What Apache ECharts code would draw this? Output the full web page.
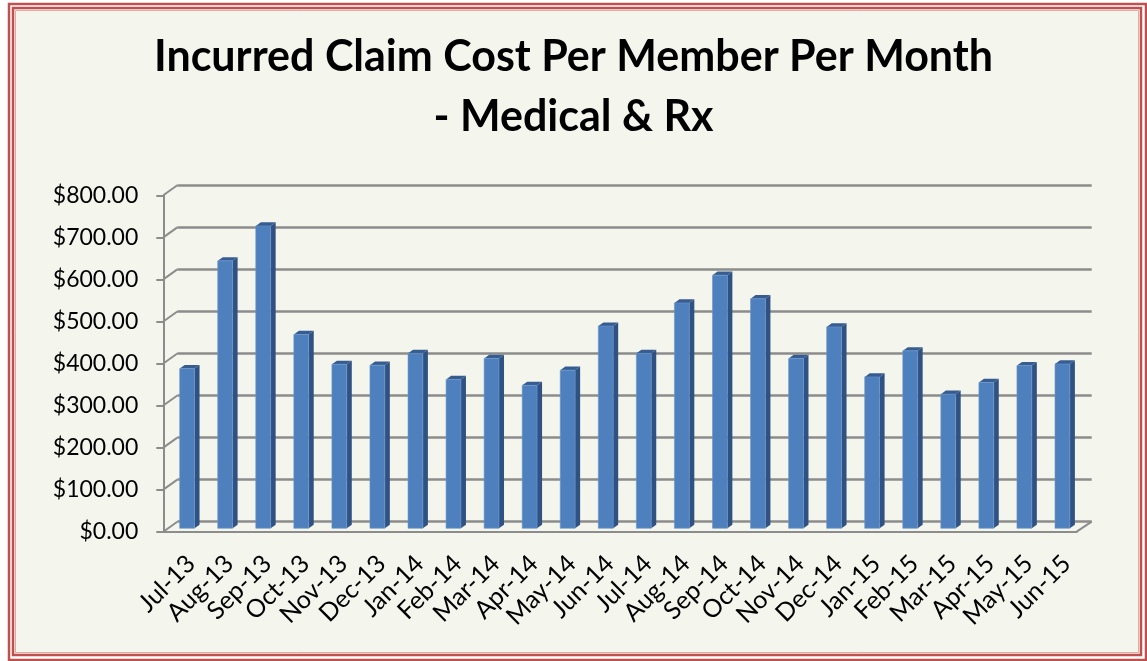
<!DOCTYPE html>
<html>
<head>
<meta charset="utf-8">
<title>Incurred Claim Cost PMPM</title>
<script src="https://cdn.jsdelivr.net/npm/echarts@6/dist/echarts.min.js"></script>
<style>
    html, body { margin: 0; padding: 0; background: #ffffff; }
    #main { width: 1147px; height: 661px; }
</style>
</head>
<body>
<div id="main"></div>
<script>
// months on the x axis
const months = ['Jul-13', 'Aug-13', 'Sep-13', 'Oct-13', 'Nov-13', 'Dec-13',
    'Jan-14', 'Feb-14', 'Mar-14', 'Apr-14', 'May-14', 'Jun-14',
    'Jul-14', 'Aug-14', 'Sep-14', 'Oct-14', 'Nov-14', 'Dec-14',
    'Jan-15', 'Feb-15', 'Mar-15', 'Apr-15', 'May-15', 'Jun-15']
// cost per member per month
const pmpm = [380, 636, 719, 461, 390, 388,
    416, 354, 404, 340, 376, 481,
    416, 536, 602, 546, 404, 479,
    360, 422, 319, 347, 387, 391]
// y axis ticks
const yTicks = [0, 100, 200, 300, 400, 500, 600, 700, 800]

const gridColor = '#8c8c8c'
const font = 'Lato, "Open Sans", sans-serif'

// 3d depth of the chart box (back wall is up and right of front axes)
const DX = 14
const DY = -10

const myChart = echarts.init(document.getElementById('main'))

// draws a column with front, side and top faces
function renderBar (params, api) {
    const p = api.coord([api.value(0), api.value(1)])
    const base = api.coord([api.value(0), 0])
    const w = api.size([1, 0])[0] * 0.39
    const ox = DX * 0.34
    const oy = DY * 0.34
    const dx = DX * 0.36
    const dy = DY * 0.36
    const xl = p[0] + ox - w / 2
    const xr = p[0] + ox + w / 2
    const yt = p[1] + oy
    const yb = base[1] + oy
    return {
        type: 'group',
        children: [
            {
                type: 'polygon',
                shape: { points: [[xr, yt], [xr + dx, yt + dy], [xr + dx, yb + dy], [xr, yb]] },
                style: { fill: '#2f5283' }
            },
            {
                type: 'polygon',
                shape: { points: [[xl, yt], [xl + dx, yt + dy], [xr + dx, yt + dy], [xr, yt]] },
                style: { fill: '#365c90' }
            },
            {
                type: 'rect',
                shape: { x: xl, y: yt, width: xr - xl, height: yb - yt },
                style: { fill: '#4f80be', stroke: '#6a95cc', lineWidth: 0.6 }
            }
        ]
    }
}

// left wall diagonals and the right edge of the floor
function renderWall (params, api) {
    const p = api.coord([api.value(0), api.value(1)])
    const half = api.size([1, 0])[0] / 2
    const side = api.value(2)
    const x = side < 0 ? p[0] - half : p[0] + half
    const ddx = side < 0 ? DX : DX + 1
    return {
        type: 'line',
        shape: { x1: x, y1: p[1], x2: x + ddx, y2: p[1] + DY },
        style: { stroke: gridColor, lineWidth: 2 }
    }
}

const wallData = yTicks.map((t) => { return [0, t, -1] })
wallData.push([months.length - 1, 0, 1])

const option = {
    backgroundColor: '#ffffff',
    animation: false,
    graphic: [
        // double red frame round the chart
        {
            type: 'rect',
            shape: { x: 9, y: 4, width: 1137, height: 656 },
            style: { fill: '#ffffff', stroke: '#c0504d', lineWidth: 2.5 },
            z: -10
        },
        {
            type: 'rect',
            shape: { x: 13, y: 8, width: 1128, height: 647 },
            style: { fill: '#f4f6ed', stroke: '#c0504d', lineWidth: 2.5 },
            z: -10
        },
        {
            type: 'rect',
            shape: { x: 15.5, y: 10.5, width: 1123, height: 642 },
            style: { fill: 'none', stroke: '#e2a9a7', lineWidth: 1 },
            z: -10
        }
    ],
    title: {
        text: 'Incurred Claim Cost Per Member Per Month\n- Medical & Rx',
        left: 'center',
        top: 27,
        padding: [0, 0, 0, 10],
        textStyle: {
            fontFamily: font,
            fontWeight: 'bold',
            fontSize: 43,
            lineHeight: 60,
            color: '#000000',
            align: 'center'
        }
    },
    grid: [
        // front plane: axes and labels
        { left: 163.3, right: 70.3, top: 195.3, bottom: 129.3 },
        // back wall: gridlines
        { left: 163.3 + DX, right: 70.3 - DX - 1, top: 195.3 + DY, bottom: 129.3 - DY }
    ],
    xAxis: [
        {
            type: 'category',
            gridIndex: 0,
            data: months,
            axisLine: { lineStyle: { color: gridColor, width: 2 } },
            axisTick: { length: 7, lineStyle: { color: gridColor, width: 2 } },
            axisLabel: {
                rotate: 45,
                margin: 19,
                interval: 0,
                verticalAlign: 'top',
                color: '#000000',
                fontFamily: font,
                fontSize: 25
            }
        },
        {
            type: 'category',
            gridIndex: 1,
            data: months,
            show: false
        }
    ],
    yAxis: [
        {
            type: 'value',
            gridIndex: 0,
            min: 0,
            max: 800,
            interval: 100,
            axisLine: { show: true, lineStyle: { color: gridColor, width: 2 } },
            axisTick: { show: true, length: 7, lineStyle: { color: gridColor, width: 2 } },
            splitLine: { show: false },
            axisLabel: {
                margin: 25,
                color: '#000000',
                fontFamily: font,
                fontSize: 23,
                formatter: (v) => { return '$' + v.toFixed(2) }
            }
        },
        {
            type: 'value',
            gridIndex: 1,
            min: 0,
            max: 800,
            interval: 100,
            axisLine: { show: false },
            axisTick: { show: false },
            axisLabel: { show: false },
            splitLine: { show: true, lineStyle: { color: gridColor, width: 2.5 } }
        }
    ],
    series: [
        {
            type: 'custom',
            name: 'wall',
            xAxisIndex: 0,
            yAxisIndex: 0,
            renderItem: renderWall,
            data: wallData,
            z: 1
        },
        {
            type: 'custom',
            name: 'PMPM',
            xAxisIndex: 0,
            yAxisIndex: 0,
            renderItem: renderBar,
            data: pmpm.map((v, i) => { return [i, v] }),
            z: 3
        }
    ]
}

myChart.setOption(option)
</script>
</body>
</html>
